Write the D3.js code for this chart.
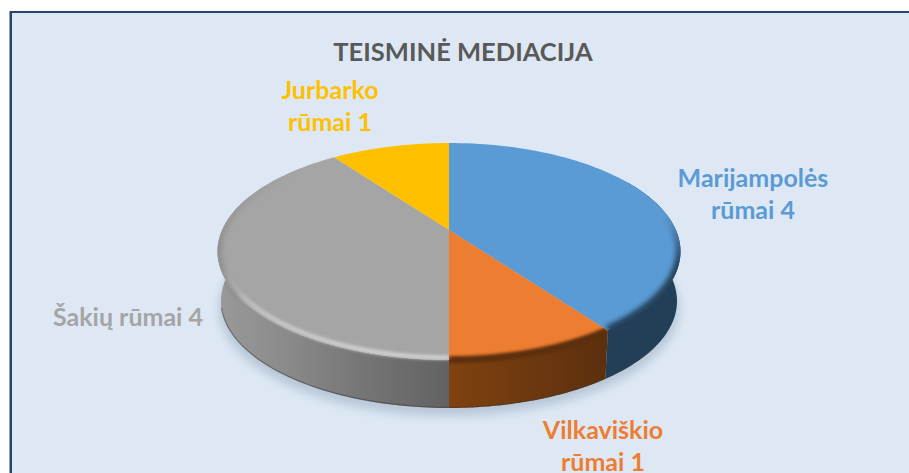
<!DOCTYPE html>
<html><head><meta charset="utf-8">
<script src="https://cdn.jsdelivr.net/npm/d3@7"></script>
<style>html,body{margin:0;padding:0;background:#fff}svg{display:block}text{font-family:Lato,"Open Sans",sans-serif;font-weight:700}</style>
</head><body><div id="chart"></div>
<script>
const titleText = "TEISMINĖ MEDIACIJA";
const categories = ["Marijampolės rūmai", "Vilkaviškio rūmai", "Šakių rūmai", "Jurbarko rūmai"];
const values = [4, 1, 4, 1];
const colors = ["#5b9bd5", "#ed7d31", "#a5a5a5", "#ffc000"];
const labelLines = [["Marijampolės", "rūmai 4"], ["Vilkaviškio", "rūmai 1"], ["Šakių rūmai 4"], ["Jurbarko", "rūmai 1"]];
const labelAnchors = [[753, 187], [603, 439], [128, 326], [330, 99]];

const W = 909, H = 473;
const svg = d3.select("#chart").append("svg").attr("width", W).attr("height", H);
const defs = svg.append("defs");
[["b1",1],["b15",1.6],["b2",2.4],["b6",5]].forEach(([id,s]) =>
  defs.append("filter").attr("id",id).attr("x","-20%").attr("y","-20%").attr("width","140%").attr("height","140%")
    .append("feGaussianBlur").attr("stdDeviation",s));

// frame
svg.append("rect").attr("x",10).attr("y",11).attr("width",W-10).attr("height",H-11).attr("fill","#dde8f4");
svg.append("rect").attr("x",10).attr("y",11).attr("width",W-10).attr("height",2).attr("fill","#2a4270");
svg.append("rect").attr("x",9).attr("y",11).attr("width",1).attr("height",H-11).attr("fill","#8f9dbb");
svg.append("rect").attr("x",10).attr("y",11).attr("width",2).attr("height",H-11).attr("fill","#2a4270");

// pie layout + perspective projection of the disc
const pie = d3.pie().sort(null).value(d => d).startAngle(0).endAngle(2 * Math.PI);
const arcs = pie(values);
const persp = 0.198;
const sx = d3.scaleLinear().domain([-1, 1]).range([222.1, 675.9]);
const sy = d3.scaleLinear().domain([-1, 1]).range([125.8, 334.2]);
const cx = sx(0), cy = sy(0);
function proj(a, s = 1, dy = 0) {
  const x = Math.sin(a), y = -Math.cos(a), w = 1 - persp * y;
  return [cx + (sx(x) - cx) * s / w, cy + dy + (sy(y) - cy) * s / w];
}
const line = d3.line();
const steps = (a0, a1) => d3.range(0, 81).map(i => a0 + (a1 - a0) * i / 80);
const deg = d => d * Math.PI / 180;
const wedge = d => line([[cx, cy], ...steps(d.startAngle, d.endAngle).map(a => proj(a))]) + "Z";
const curve = (a0, a1, s = 1, dy = 0) => line(steps(a0, a1).map(a => proj(a, s, dy)));
const bottom = { s: 0.985, dy: 50 };

// ground shadow
svg.append("path")
  .attr("d", curve(0, 2 * Math.PI, 0.995, 57) + "Z")
  .attr("fill", "#8ba0b6").attr("opacity", 0.45).attr("filter", "url(#b6)");

// side walls
const sideStops = [
  [["0","#223f58"],["1","#223f58"]],
  [["0","#80420f"],["1","#5c2f0e"]],
  [["0","#626262"],["0.35","#747474"],["0.7","#8a8a8a"],["1","#9a9a9a"]],
  null
];
const sideRange = [[60, 144], [144, 180], [180, 290], null];
const sideX = [[600, 680], [449, 606], [449, 218], null];
const sidePath = i => {
  const [a0, a1] = sideRange[i].map(deg);
  return line([...steps(a0, a1).map(a => proj(a)), ...steps(a1, a0).map(a => proj(a, bottom.s, bottom.dy))]) + "Z";
};
arcs.forEach((d, i) => {
  if (!sideRange[i]) return;
  const g = defs.append("linearGradient").attr("id", "side" + i).attr("gradientUnits", "userSpaceOnUse")
    .attr("x1", sideX[i][0]).attr("x2", sideX[i][1]).attr("y1", 0).attr("y2", 0);
  sideStops[i].forEach(s => g.append("stop").attr("offset", s[0]).attr("stop-color", s[1]));
  svg.append("path").attr("d", sidePath(i)).attr("fill", `url(#side${i})`);
});
svg.append("path").attr("d", curve(deg(125), deg(255), bottom.s, bottom.dy - 0.6))
  .attr("fill", "none").attr("stroke", "#3c3c3c").attr("stroke-width", 1.2).attr("opacity", 0.5);

// vertical fades for the bevel strokes
function fade(id, color, stops) {
  const g = defs.append("linearGradient").attr("id", id).attr("gradientUnits", "userSpaceOnUse")
    .attr("x1", 0).attr("x2", 0).attr("y1", 140).attr("y2", 370);
  stops.forEach(s => g.append("stop").attr("offset", (s[0] - 140) / 230).attr("stop-color", color).attr("stop-opacity", s[1]));
  return `url(#${id})`;
}
const rims = [
  [{ c: fade("f0", "#223f58", [[215, 0], [265, 1]]), a: [70, 144], s: 0.998, w: 9, f: "b2" }],
  [{ c: "#5c2f0e", a: [144, 180], s: 0.998, w: 7, f: "b15" }],
  [{ c: fade("f2a", "#8c8c8c", [[165, 0], [250, 0.9], [300, 0.5], [330, 0]]), a: [235, 310], s: 0.998, w: 8, f: "b2" },
   { c: fade("f2b", "#cfcfcf", [[268, 0], [315, 0.75], [350, 1]]), a: [180, 272], s: 0.982, w: 4.5, f: "b15" }],
  []
];
// each face, with a soft bevel allowed to spill slightly over the top of its wall
arcs.forEach((d, i) => {
  const cp = defs.append("clipPath").attr("id", "clip" + i);
  cp.append("path").attr("d", wedge(d));
  if (sideRange[i]) cp.append("path").attr("d", sidePath(i));
  svg.append("path").attr("d", wedge(d)).attr("fill", colors[i]);
  const g = svg.append("g").attr("clip-path", `url(#clip${i})`);
  rims[i].forEach(r => g.append("path")
    .attr("d", curve(deg(r.a[0]), deg(r.a[1]), r.s))
    .attr("fill", "none").attr("stroke", r.c).attr("stroke-width", r.w).attr("filter", `url(#${r.f})`));
});

// title and labels
svg.append("text").attr("x", 463).attr("y", 61).attr("text-anchor", "middle")
  .attr("font-size", 25.5).attr("fill", "#595959").text(titleText);
arcs.forEach((d, i) => {
  const t = svg.append("text").attr("text-anchor", "middle").attr("font-size", 25).attr("fill", colors[i]);
  labelLines[i].forEach((l, k) => t.append("tspan")
    .attr("x", labelAnchors[i][0]).attr("y", labelAnchors[i][1] + k * 31.5).text(l));
});
</script></body></html>
